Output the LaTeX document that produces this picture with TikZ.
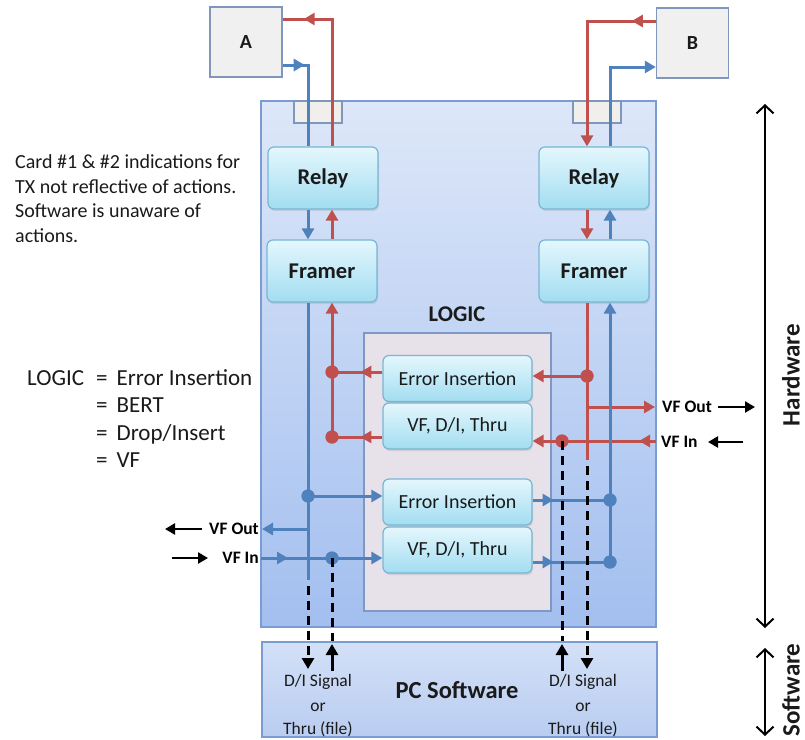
\documentclass[tikz,border=0pt]{standalone}
\usepackage{fontspec}
\setmainfont{Carlito}
\usetikzlibrary{arrows.meta,decorations.markings,shadows}
\definecolor{cred}{HTML}{C0504D}
\definecolor{cblue}{HTML}{4F81BD}
\definecolor{cardtop}{HTML}{DDE7F9}
\definecolor{cardbot}{HTML}{A3BFEF}
\definecolor{cardline}{HTML}{7A9CD3}
\definecolor{utop}{HTML}{E4F7FD}
\definecolor{ubot}{HTML}{A2DDF1}
\definecolor{uline}{HTML}{78B6D3}
\definecolor{logicfill}{HTML}{E7E1EA}
\definecolor{logicline}{HTML}{7D98C2}
\definecolor{endfill}{HTML}{F0F0F0}
\definecolor{endline}{HTML}{7F97BD}
\definecolor{tabfill}{HTML}{F1EFEB}
\definecolor{swtop}{HTML}{D3E0F7}
\definecolor{swbot}{HTML}{B9CDF1}
\definecolor{txt}{HTML}{1A1A1A}
\newcommand{\fs}[1]{\fontsize{#1}{#1}\selectfont}
\begin{document}
\begin{tikzpicture}[x=1pt,y=-1pt,
  >={Triangle[length=11pt,width=12pt]},
  redline/.style={draw=cred, line width=3pt},
  blueline/.style={draw=cblue, line width=3pt},
  dashline/.style={draw=black, line width=3pt, dash pattern=on 9pt off 6pt},
  blackline/.style={draw=black, line width=3pt},
  blackarrow/.style={draw=black, line width=2.4pt, -{Triangle[length=10pt,width=11pt]}},
  hwarrow/.style={draw=black, line width=2pt, {Straight Barb[length=8pt,width=17pt]}-{Straight Barb[length=8pt,width=17pt]}},
  midarr/.style={postaction={decorate, decoration={markings, mark=at position #1 with {\arrow{>}}}}},
  cardbox/.style={draw=cardline, line width=1.4pt, top color=cardtop, bottom color=cardbot, inner sep=0},
  unitbox/.style={draw=uline, line width=1.2pt, rounded corners=6pt, top color=utop, bottom color=ubot, inner sep=0, text=txt,
     drop shadow={opacity=0.2, shadow xshift=1pt, shadow yshift=-2pt}},
  relaybox/.style={unitbox, minimum width=110pt, minimum height=62pt, font=\fs{22.5}\bfseries},
  logicbox/.style={unitbox, minimum width=149pt, minimum height=46pt, font=\fs{20}},
  endbox/.style={draw=endline, line width=1.4pt, fill=endfill, minimum width=72pt, minimum height=70pt, inner sep=0, font=\fs{20}\bfseries, text=txt},
  tabbox/.style={draw=endline, line width=1.2pt, fill=tabfill, minimum width=48pt, minimum height=22pt, inner sep=0},
  rdot/.style={circle, fill=cred, inner sep=0, minimum size=13pt},
  bdot/.style={circle, fill=cblue, inner sep=0, minimum size=13pt},
  smlabel/.style={font=\fs{17.5}\bfseries, text=black, inner sep=0},
  swtext/.style={font=\fs{17.5}, align=center, text=txt, inner sep=0}
]
\useasboundingbox (0,0) rectangle (805,739);

% boxes
\node[cardbox, minimum width=395pt, minimum height=526pt] (card) at (458.5,364) {};
\node[cardbox, top color=swtop, bottom color=swbot, minimum width=395pt, minimum height=95pt] (sw) at (459.5,689.5) {};
\node[tabbox] (tabL) at (318,112) {};
\node[tabbox] (tabR) at (597,112) {};
\node[endbox] (A) at (246,42) {A};
\node[endbox] (B) at (692.5,43) {B};
\node[draw=logicline, line width=1.4pt, fill=logicfill, minimum width=187pt, minimum height=278pt, inner sep=0] (logic) at (457.5,472) {};
\node[relaybox] (relayL) at (323,178) {Relay};
\node[relaybox] (framerL) at (322,271) {Framer};
\node[relaybox] (relayR) at (594,178) {Relay};
\node[relaybox] (framerR) at (594,271) {Framer};
\node[font=\fs{22.5}\bfseries, text=txt] (logiclbl) at (457,314) {LOGIC};
\node[logicbox] (ei1) at (457.5,378.5) {Error Insertion};
\node[logicbox] (vf1) at (457.5,426) {VF, D/I, Thru};
\node[logicbox] (ei2) at (457.5,502) {Error Insertion};
\node[logicbox] (vf2) at (457.5,550) {VF, D/I, Thru};

% coordinates
\coordinate (aR) at (332,19);
\coordinate (aB) at (308,65);
\coordinate (bR) at (587,21);
\coordinate (bB) at (610,67);
\coordinate (bLend) at (308,580);
\coordinate (vfoL) at (262,529);
\coordinate (vfiL) at (261,558);
\coordinate (vfoR) at (655,407);
\coordinate (vfiR) at (656,441);
\coordinate (rRend) at (587,460);
\coordinate (dsA1) at (308,586);
\coordinate (dsA2) at (308,669);
\coordinate (dsB2) at (332,641);
\coordinate (upB1) at (332,671);
\coordinate (upB2) at (332,644);
\coordinate (dsC2) at (562,641);
\coordinate (upC1) at (562,671);
\coordinate (upC2) at (562,644);
\coordinate (dsD1) at (587,466);
\coordinate (dsD2) at (587,669);

% A side
\draw[redline, midarr=-21pt] (relayL.north -| aR) -- (aR) -- (A.east |- aR);
\draw[blueline, midarr=22pt] (A.east |- aB) -- (aB) -- (relayL.north -| aB);
\draw[blueline, ->] (relayL.south -| aB) -- (framerL.north -| aB);
\draw[redline, ->] (framerL.north -| aR) -- (relayL.south -| aR);
% B side
\draw[redline, midarr=24pt, ->] (B.west |- bR) -- (bR) -- (relayR.north -| bR);
\draw[blueline, ->] (relayR.north -| bB) -- (bB) -- (B.west |- bB);
\draw[redline, ->] (relayR.south -| bR) -- (framerR.north -| bR);
\draw[blueline, ->] (framerR.north -| bB) -- (relayR.south -| bB);

% dots
\node[rdot] (dL1) at (332,372) {};
\node[rdot] (dL2) at (332,437) {};
\node[rdot] (dR1) at (587,376) {};
\node[rdot] (dR2) at (562,441) {};
\node[bdot] (dB1L) at (308,496) {};
\node[bdot] (dB2L) at (332,558) {};
\node[bdot] (dB1R) at (610,500) {};
\node[bdot] (dB2R) at (610,562) {};

% left logic lines
\draw[blueline] (framerL.south -| aB) -- (bLend);
\draw[redline, ->] (dL2.center) -- (framerL.south -| aR);
\draw[redline, midarr=22pt] (ei1.west |- dL1) -- (dL1.center);
\draw[redline, midarr=22pt] (vf1.west |- dL2) -- (dL2.center);
\draw[blueline, ->] (dB1L.center) -- (ei2.west |- dB1L);
\draw[blueline, ->] (aB |- vfoL) -- (vfoL);
\draw[blueline, midarr=27pt] (vfiL) -- (dB2L.center);
\draw[blueline, ->] (dB2L.center) -- (vf2.west |- dB2L);

% right logic lines
\draw[redline] (framerR.south -| bR) -- (rRend);
\draw[redline, ->] (dR1.center) -- (ei1.east |- dR1);
\draw[redline, ->] (bR |- vfoR) -- (vfoR);
\draw[redline, midarr=17pt] (vfiR) -- (dR2.center);
\draw[redline, ->] (dR2.center) -- (vf1.east |- dR2);
\draw[blueline, ->] (dB2R.center) -- (framerR.south -| bB);
\draw[blueline, midarr=21pt] (ei2.east |- dB1R) -- (dB1R.center);
\draw[blueline, midarr=21pt] (vf2.east |- dB2R) -- (dB2R.center);

% redraw dots on top
\foreach \d in {dL1,dL2,dR1,dR2} \fill[cred] (\d.center) circle (6.5pt);
\foreach \d in {dB1L,dB2L,dB1R,dB2R} \fill[cblue] (\d.center) circle (6.5pt);

% dashed to software
\draw[dashline, ->] (dsA1) -- (dsA2);
\draw[dashline] (dB2L.center) -- (dsB2);
\draw[blackline, ->] (upB1) -- (upB2);
\draw[dashline] (dR2.center) -- (dsC2);
\draw[blackline, ->] (upC1) -- (upC2);
\draw[dashline, ->] (dsD1) -- (dsD2);

% software texts
\node[font=\fs{24.5}\bfseries, text=txt] (pcsw) at (457,690) {PC Software};
\node[swtext] (swL) at (318,706) {D/I Signal\\[7pt]or\\[6pt]Thru (file)};
\node[swtext] (swR) at (583,706) {D/I Signal\\[7pt]or\\[6pt]Thru (file)};

% VF labels
\node[smlabel, anchor=east] (vfoLt) at (259,529) {VF Out};
\node[smlabel, anchor=east] (vfiLt) at (259,558) {VF In};
\coordinate (ka1) at (202,529);
\coordinate (ka2) at (165,529);
\coordinate (kb1) at (172,558);
\coordinate (kb2) at (208,558);
\draw[blackarrow] (ka1) -- (ka2);
\draw[blackarrow] (kb1) -- (kb2);
\node[smlabel, anchor=west] (vfoRt) at (662,407) {VF Out};
\node[smlabel, anchor=west] (vfiRt) at (661,442) {VF In};
\coordinate (kc1) at (718,407);
\coordinate (kc2) at (755,407);
\coordinate (kd1) at (743,442);
\coordinate (kd2) at (708,442);
\draw[blackarrow] (kc1) -- (kc2);
\draw[blackarrow] (kd1) -- (kd2);

% hardware/software
\coordinate (hw1) at (765,104);
\coordinate (hw2) at (765,628);
\coordinate (sw1) at (765,648);
\coordinate (sw2) at (765,736);
\draw[hwarrow] (hw1) -- (hw2);
\draw[hwarrow] (sw1) -- (sw2);
\node[rotate=90, font=\fs{25}\bfseries, text=txt] (hwt) at (791,375) {Hardware};
\node[rotate=90, font=\fs{25}\bfseries, text=txt] (swt) at (791,690) {Software};

% left notes
\node[anchor=base west, align=left, font=\fontsize{20}{24.5}\selectfont, text=txt, inner sep=0] (note) at (15,242)
  {Card \#1 \& \#2 indications for\\TX not reflective of actions.\\Software is unaware of\\actions.};
\node[anchor=base west, font=\fs{23}, text=txt, inner sep=0] (lg0) at (27,385) {LOGIC};
\node[anchor=base west, font=\fs{23}, text=txt, inner sep=0] (lgA) at (96,385) {=\hspace{9pt}Error Insertion};
\node[anchor=base west, font=\fs{23}, text=txt, inner sep=0] (lgB) at (96,412) {=\hspace{9pt}BERT};
\node[anchor=base west, font=\fs{23}, text=txt, inner sep=0] (lgC) at (96,440) {=\hspace{9pt}Drop/Insert};
\node[anchor=base west, font=\fs{23}, text=txt, inner sep=0] (lgD) at (96,467) {=\hspace{9pt}VF};
\end{tikzpicture}
\end{document}
